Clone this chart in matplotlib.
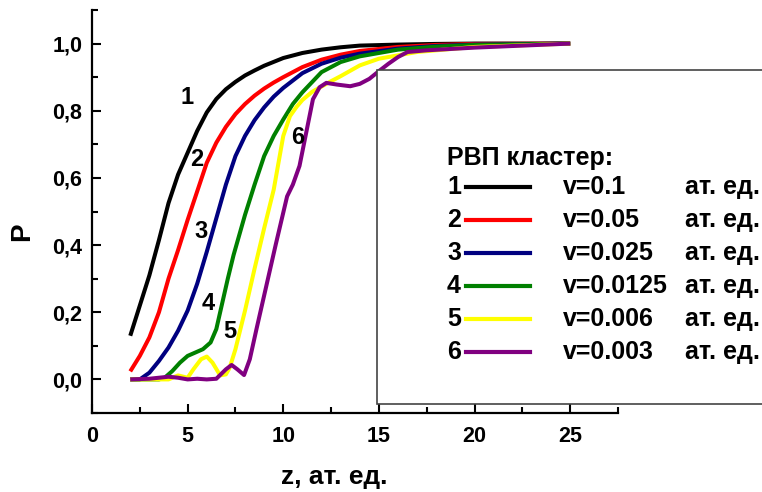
import numpy as np
import matplotlib.pyplot as plt
from matplotlib.lines import Line2D
from matplotlib.patches import Rectangle
from matplotlib.ticker import MultipleLocator, FuncFormatter

plt.rcParams['font.family'] = ['Liberation Sans', 'DejaVu Sans']
plt.rcParams['font.weight'] = 'bold'

# ---- data ----
z1 = [2.0, 2.5, 3.0, 3.5, 4.0, 4.5, 5.0, 5.5, 6.0, 6.5, 7.0, 7.5, 8.0, 8.5, 9.0, 10.0, 11.0, 12.0, 13.0, 14.0, 16.0, 18.0, 20.0, 25.0]
p1 = [0.13, 0.22, 0.31, 0.415, 0.525, 0.61, 0.675, 0.74, 0.795, 0.835, 0.864, 0.886, 0.905, 0.92, 0.934, 0.957, 0.972, 0.982, 0.989, 0.994, 0.997, 0.999, 1.0, 1.0]

z2 = [2.0, 2.5, 3.0, 3.5, 4.0, 4.5, 5.0, 5.5, 6.0, 6.5, 7.0, 7.5, 8.0, 8.5, 9.0, 9.5, 10.0, 11.0, 12.0, 13.0, 14.0, 16.0, 18.0, 20.0, 25.0]
p2 = [0.024, 0.07, 0.125, 0.20, 0.30, 0.385, 0.475, 0.56, 0.645, 0.705, 0.752, 0.79, 0.82, 0.845, 0.866, 0.884, 0.90, 0.93, 0.952, 0.967, 0.978, 0.99, 0.996, 0.999, 1.0]

z3 = [2.0, 2.5, 3.0, 3.5, 4.0, 4.5, 5.0, 5.5, 6.0, 6.5, 7.0, 7.5, 8.0, 8.5, 9.0, 9.5, 10.0, 11.0, 12.0, 13.0, 14.0, 16.0, 18.0, 20.0, 25.0]
p3 = [0.0, 0.0, 0.02, 0.055, 0.095, 0.145, 0.205, 0.285, 0.38, 0.48, 0.58, 0.665, 0.725, 0.772, 0.81, 0.842, 0.868, 0.912, 0.94, 0.958, 0.97, 0.985, 0.993, 0.997, 1.0]

z4 = [2.0, 3.5, 3.8, 4.2, 4.6, 5.0, 5.4, 5.8, 6.2, 6.5, 6.8, 7.1, 7.4, 7.7, 8.0, 8.5, 9.0, 9.5, 10.0, 10.5, 11.0, 12.0, 13.0, 14.0, 16.0, 18.0, 20.0, 25.0]
p4 = [0.0, 0.0, 0.005, 0.025, 0.05, 0.07, 0.08, 0.09, 0.11, 0.15, 0.225, 0.30, 0.37, 0.43, 0.49, 0.58, 0.665, 0.725, 0.774, 0.82, 0.855, 0.915, 0.945, 0.962, 0.982, 0.991, 0.996, 1.0]

z5 = [2.0, 4.0, 4.5, 5.0, 5.3, 5.7, 6.0, 6.3, 6.7, 7.0, 7.2, 7.5, 8.0, 8.5, 9.0, 9.5, 10.0, 10.35, 10.7, 11.0, 11.5, 12.0, 12.5, 13.0, 14.0, 15.0, 17.0, 20.0, 25.0]
p5 = [0.0, 0.0, 0.012, 0.005, 0.03, 0.06, 0.068, 0.05, 0.012, 0.015, 0.035, 0.09, 0.205, 0.33, 0.45, 0.565, 0.725, 0.784, 0.812, 0.832, 0.856, 0.872, 0.888, 0.903, 0.935, 0.955, 0.975, 0.99, 1.0]

z6 = [2.0, 3.0, 4.0, 4.5, 5.0, 5.5, 6.0, 6.5, 7.0, 7.3, 7.6, 7.95, 8.25, 8.6, 9.0, 9.6, 10.2, 10.5, 10.85, 11.2, 11.55, 11.9, 12.25, 12.8, 13.5, 14.0, 14.5, 15.0, 15.5, 16.0, 16.5, 17.5, 20.0, 25.0]
p6 = [0.0, 0.002, 0.008, 0.005, 0.0, 0.002, 0.0, 0.002, 0.03, 0.043, 0.03, 0.013, 0.06, 0.15, 0.25, 0.40, 0.545, 0.58, 0.636, 0.735, 0.834, 0.87, 0.883, 0.878, 0.873, 0.88, 0.895, 0.918, 0.94, 0.96, 0.975, 0.98, 0.988, 1.0]

series_z = [z1, z2, z3, z4, z5, z6]
series_p = [p1, p2, p3, p4, p5, p6]
colors = ['#000000', '#ff0000', '#000080', '#008000', '#ffff00', '#800080']
labels = ['1', '2', '3', '4', '5', '6']
speeds = ['v=0.1', 'v=0.05', 'v=0.025', 'v=0.0125', 'v=0.006', 'v=0.003']

# curve number labels (data coords)
lab_z = [4.95, 5.47, 5.68, 6.05, 7.2, 10.76]
lab_p = [0.84, 0.656, 0.439, 0.226, 0.142, 0.72]

# ---- figure ----
fig = plt.figure(figsize=(7.62, 4.92), dpi=100)
ax = fig.add_axes([92 / 762, 1 - 413 / 492, (618 - 92) / 762, (413 - 10) / 492])

for z, p, c in zip(series_z, series_p, colors):
    ax.plot(z, p, color=c, lw=2.9, solid_joinstyle='round', solid_capstyle='butt')

for t, x, y in zip(labels, lab_z, lab_p):
    ax.text(x, y, t, fontsize=17, fontweight='bold', ha='center', va='center')

ax.set_xlim(0, 27.5)
ax.set_ylim(-0.1, 1.1)
ax.spines['top'].set_visible(False)
ax.spines['right'].set_visible(False)
for s in ['left', 'bottom']:
    ax.spines[s].set_linewidth(1.6)

ax.xaxis.set_minor_locator(MultipleLocator(2.5))
ax.yaxis.set_major_locator(MultipleLocator(0.2))
ax.yaxis.set_minor_locator(MultipleLocator(0.1))
ax.set_xticks([0, 5, 10, 15, 20, 25])
ax.yaxis.set_major_formatter(FuncFormatter(lambda v, pos: f'{v:.1f}'.replace('.', ',')))
ax.tick_params(which='major', direction='in', width=1.5, length=6.5)
ax.tick_params(which='minor', direction='in', width=1.5, length=4.5)
ax.tick_params(axis='x', which='major', pad=9, labelsize=15.5)
ax.tick_params(axis='y', which='major', pad=7, labelsize=15.5)
for lbl in ax.get_xticklabels() + ax.get_yticklabels():
    lbl.set_fontweight('bold')

fig.text(334 / 762, 1 - 477 / 492, 'z, ат. ед.', fontsize=19, fontweight='bold', ha='center', va='center')
fig.text(22 / 762, 1 - 232 / 492, 'P', fontsize=20, fontweight='bold', ha='center', va='center', rotation=90)

# ---- legend box (runs off the right edge) ----
fig.patches.append(Rectangle((377 / 762, 1 - 404 / 492), 0.6, (404 - 70) / 492,
                             transform=fig.transFigure, facecolor='white',
                             edgecolor='#444444', lw=1.2, zorder=5))
fig.text(447 / 762, 1 - 158 / 492, 'РВП кластер:', fontsize=18, fontweight='bold',
         ha='left', va='center', zorder=6)
row_y = [187, 220, 253, 286, 319, 352]
for i in range(6):
    yy = 1 - row_y[i] / 492
    fig.text(447 / 762, yy, labels[i], fontsize=18, fontweight='bold', ha='left', va='center', zorder=6)
    fig.lines.append(Line2D([466 / 762, 530 / 762], [yy, yy], transform=fig.transFigure,
                            color=colors[i], lw=3, zorder=6))
    fig.text(563 / 762, yy, speeds[i], fontsize=18, fontweight='bold', ha='left', va='center', zorder=6)
    fig.text(685 / 762, yy, 'ат. ед.', fontsize=18, fontweight='bold', ha='left', va='center', zorder=6)

fig.savefig('out.png', dpi=100)
